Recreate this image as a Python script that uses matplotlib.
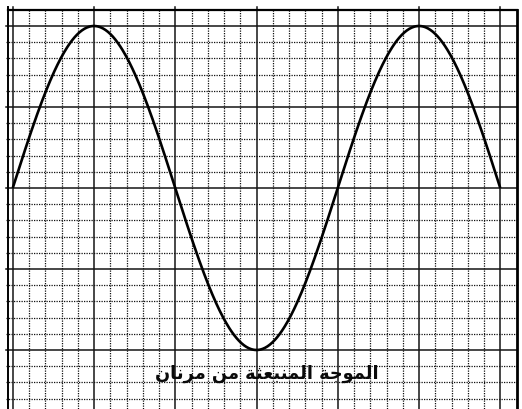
import numpy as np
import matplotlib
matplotlib.use("Agg")
import matplotlib.pyplot as plt

# Wave parameters (grid units: one major square = 1)
amplitude = 2.0
wavelength = 4.0
x_start, x_end = 0.0, 6.0

# Grid layout
major_x = [0, 1, 2, 3, 4, 5, 6]
major_y = [2, 1, 0, -1, -2]
minor_step = 0.2

# Caption (Arabic presentation forms, logical order): "الموجة المنبعثة من مرنان"
caption_logical = (
    "\uFE8D\uFEDF\uFEE4\uFEEE\uFE9F\uFE94 "
    "\uFE8D\uFEDF\uFEE4\uFEE8\uFE92\uFECC\uFE9C\uFE94 "
    "\uFEE3\uFEE6 "
    "\uFEE3\uFEAE\uFEE7\uFE8E\uFEE5"
)
caption = caption_logical[::-1]  # right-to-left display order

W, H = 522, 409
px_x, px_y = 81.25, 81.0   # pixels per grid unit
x0_px, y0_px = 12.75, 188.0

fig = plt.figure(figsize=(W / 100, H / 100), dpi=100)
ax = fig.add_axes([0, 0, 1, 1])
ax.set_xlim(-x0_px / px_x, (W - x0_px) / px_x)
ax.set_ylim(-(H - y0_px) / px_y, y0_px / px_y)
ax.axis("off")

top = 2.2
right = 6.2
left = -(x0_px - 8) / px_x
stub_left = -(x0_px - 6) / px_x
stub_top = top + 3 / px_y
bottom = ax.get_ylim()[0]

dot = dict(color="#111111", lw=0.9, ls=(0, (1, 1)), zorder=1)
solid = dict(color="#151515", lw=1.1, zorder=2)

# minor grid
for xv in np.arange(minor_step, right - 1e-6, minor_step):
    if abs(xv - round(xv)) > 1e-6:
        ax.plot([xv, xv], [top, bottom], **dot)
for yv in np.arange(top - minor_step, bottom, -minor_step):
    if abs(yv - round(yv)) > 1e-6:
        ax.plot([stub_left, right], [yv, yv], **dot)

# major grid
for xv in major_x:
    ax.plot([xv, xv], [stub_top, bottom], **solid)
for yv in major_y:
    ax.plot([stub_left, right], [yv, yv], **solid)

# frame
ax.plot([left, left], [stub_top, bottom], color="black", lw=1.4, zorder=3)
ax.plot([left, right], [top, top], color="black", lw=1.6, zorder=3)
ax.plot([right, right], [top, bottom], color="black", lw=2.0, zorder=3)

# wave
x = np.linspace(x_start, x_end, 600)
y = amplitude * np.sin(2 * np.pi * x / wavelength)
ax.plot(x, y, color="black", lw=1.9, zorder=4, solid_capstyle="butt")

ax.text((267 - x0_px) / px_x, -(374 - y0_px) / px_y, caption,
        ha="center", va="center", fontsize=12.8, fontweight="bold",
        family=["DejaVu Sans"], color="#0a0a0a", zorder=5)

fig.savefig("out.png", dpi=100)
